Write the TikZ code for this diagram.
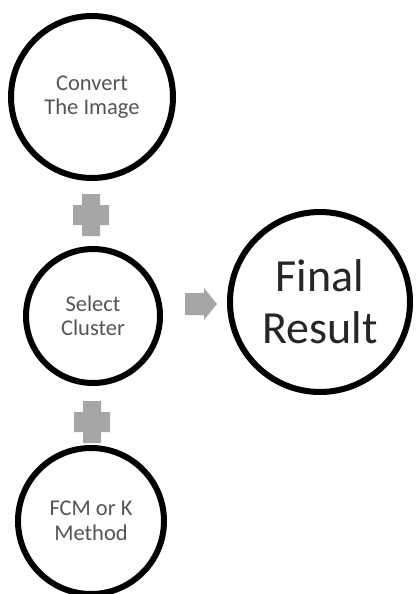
\documentclass[tikz,border=0pt]{standalone}
\usepackage{fontspec}
\setmainfont{Carlito}
\definecolor{shapegray}{HTML}{A6A6A6}
\definecolor{txtgray}{HTML}{555555}
\definecolor{txtdark}{HTML}{262626}
\tikzset{
  stepcircle/.style={circle, draw=black, line width=6pt, fill=white, align=center, inner sep=0pt},
  smalltext/.style={text=txtgray, font=\fontsize{22.5}{24.5}\selectfont},
  bigtext/.style={text=txtdark, font=\fontsize{46}{52}\selectfont},
  plusshape/.style={fill=shapegray, draw=none},
}
\newcommand{\plussign}[1]{%
  \fill[plusshape] (#1) ++(-9,-21) -- ++(18,0) -- ++(0,11) -- ++(9,0) -- ++(0,20) -- ++(-9,0) -- ++(0,11) -- ++(-18,0) -- ++(0,-11) -- ++(-9,0) -- ++(0,-20) -- ++(9,0) -- cycle;}
\begin{document}
\begin{tikzpicture}[x=1pt,y=-1pt]
\useasboundingbox (0,0) rectangle (415,594);
\fill[white] (0,0) rectangle (415,594);
\node[stepcircle, smalltext, minimum size=162pt] (convert) at (92,97) {Convert\\The Image};
\node[stepcircle, smalltext, minimum size=134pt] (select) at (93,316) {Select\\Cluster};
\node[stepcircle, smalltext, minimum size=146pt] (fcm) at (91,521) {FCM or K\\Method};
\node[stepcircle, bigtext, minimum size=180pt] (final) at (320,302) {Final\\Result};
\coordinate (p1) at (91,215);
\coordinate (p2) at (92,422);
\coordinate (ar) at (185,304);
\plussign{p1}
\plussign{p2}
\fill[shapegray] (ar) ++(0,-11) -- ++(19,0) -- ++(0,-5) -- ++(13,16) -- ++(-13,16) -- ++(0,-5) -- ++(-19,0) -- cycle;
\end{tikzpicture}
\end{document}
